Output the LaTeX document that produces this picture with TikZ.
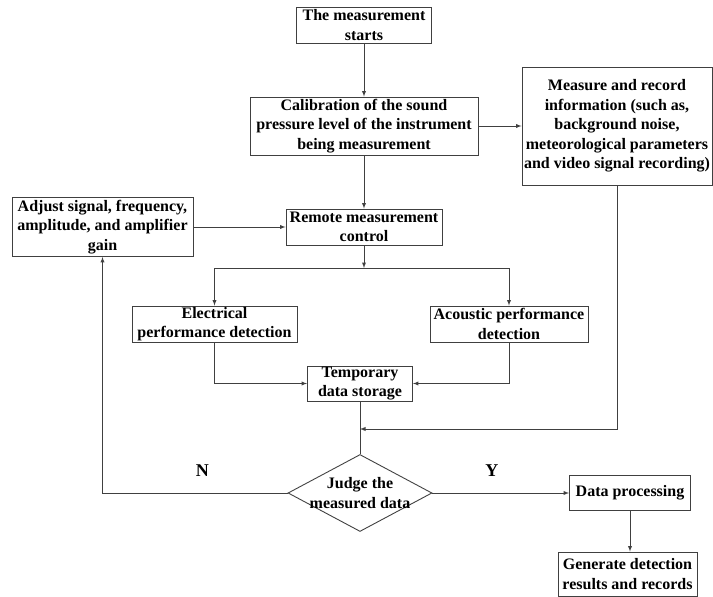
\documentclass[tikz,border=0pt]{standalone}
\usepackage{fontspec}
\setmainfont{Liberation Serif}
\usetikzlibrary{shapes.geometric}
\begin{document}
\begin{tikzpicture}[x=1pt,y=-1pt,
  box/.style={draw=black!75,line width=0.9pt,inner sep=0pt,align=center,
    font=\bfseries\fontsize{16}{19.5}\selectfont},
  flow/.style={draw=black!75,line width=0.9pt},
  yn/.style={inner sep=0pt,font=\bfseries\fontsize{18}{20}\selectfont}]
\useasboundingbox (0,0) rectangle (713,597);
\node[box,minimum width=135,minimum height=36] (start) at (364,25) {The measurement\\starts};
\node[box,minimum width=228,minimum height=58] (calib) at (364,126) {Calibration of the sound\\pressure level of the instrument\\being measurement};
\node[box,minimum width=190,minimum height=118] (measure) at (617,126) {Measure and record\\information (such as,\\background noise,\\meteorological parameters\\and video signal recording)};
\node[box,minimum width=181,minimum height=59] (adjust) at (102.5,227) {Adjust signal, frequency,\\amplitude, and amplifier\\gain};
\node[box,minimum width=156,minimum height=36] (remote) at (364,227) {Remote measurement\\control};
\node[box,minimum width=165,minimum height=36] (elec) at (214.5,324) {Electrical\\performance detection};
\node[box,minimum width=158,minimum height=36] (acou) at (509,324) {Acoustic performance\\detection};
\node[box,minimum width=105,minimum height=35] (temp) at (360,383.5) {Temporary\\data storage};
\node[box,diamond,minimum width=144,minimum height=77,
  label={[name=judgetext,align=center,font=\bfseries\fontsize{16}{19.5}\selectfont]center:Judge the\\measured data}] (judge) at (360,493) {};
\node[box,minimum width=121,minimum height=35] (dp) at (630,493) {Data processing};
\node[box,minimum width=139,minimum height=44] (gen) at (627.5,574) {Generate detection\\results and records};
\coordinate (split) at (364,268);
\coordinate (merge) at (360,429);

\draw[flow,-latex] (start) -- (calib);
\draw[flow,-latex] (calib) -- (remote);
\draw[flow,-latex] (calib) -- (measure);
\draw[flow,-latex] (adjust) -- (remote);
\draw[flow,-latex] (remote) -- (split);
\draw[flow,-latex] (split) -| (elec.north);
\draw[flow,-latex] (split) -| (acou.north);
\draw[flow,-latex] (elec.south) |- (temp.west);
\draw[flow,-latex] (acou.south) |- (temp.east);
\draw[flow] (temp) -- (judge.north);
\draw[flow,-latex] (measure.south) |- (merge);
\draw[flow,-latex] (judge.west) -| node[yn,pos=0.23,above=16pt] (nlabel) {N} (adjust.south);
\draw[flow,-latex] (judge.east) -- node[yn,pos=0.435,above=16pt] (ylabel) {Y} (dp.west);
\draw[flow,-latex] (dp.south) -- (dp.south |- gen.north);
\end{tikzpicture}
\end{document}
